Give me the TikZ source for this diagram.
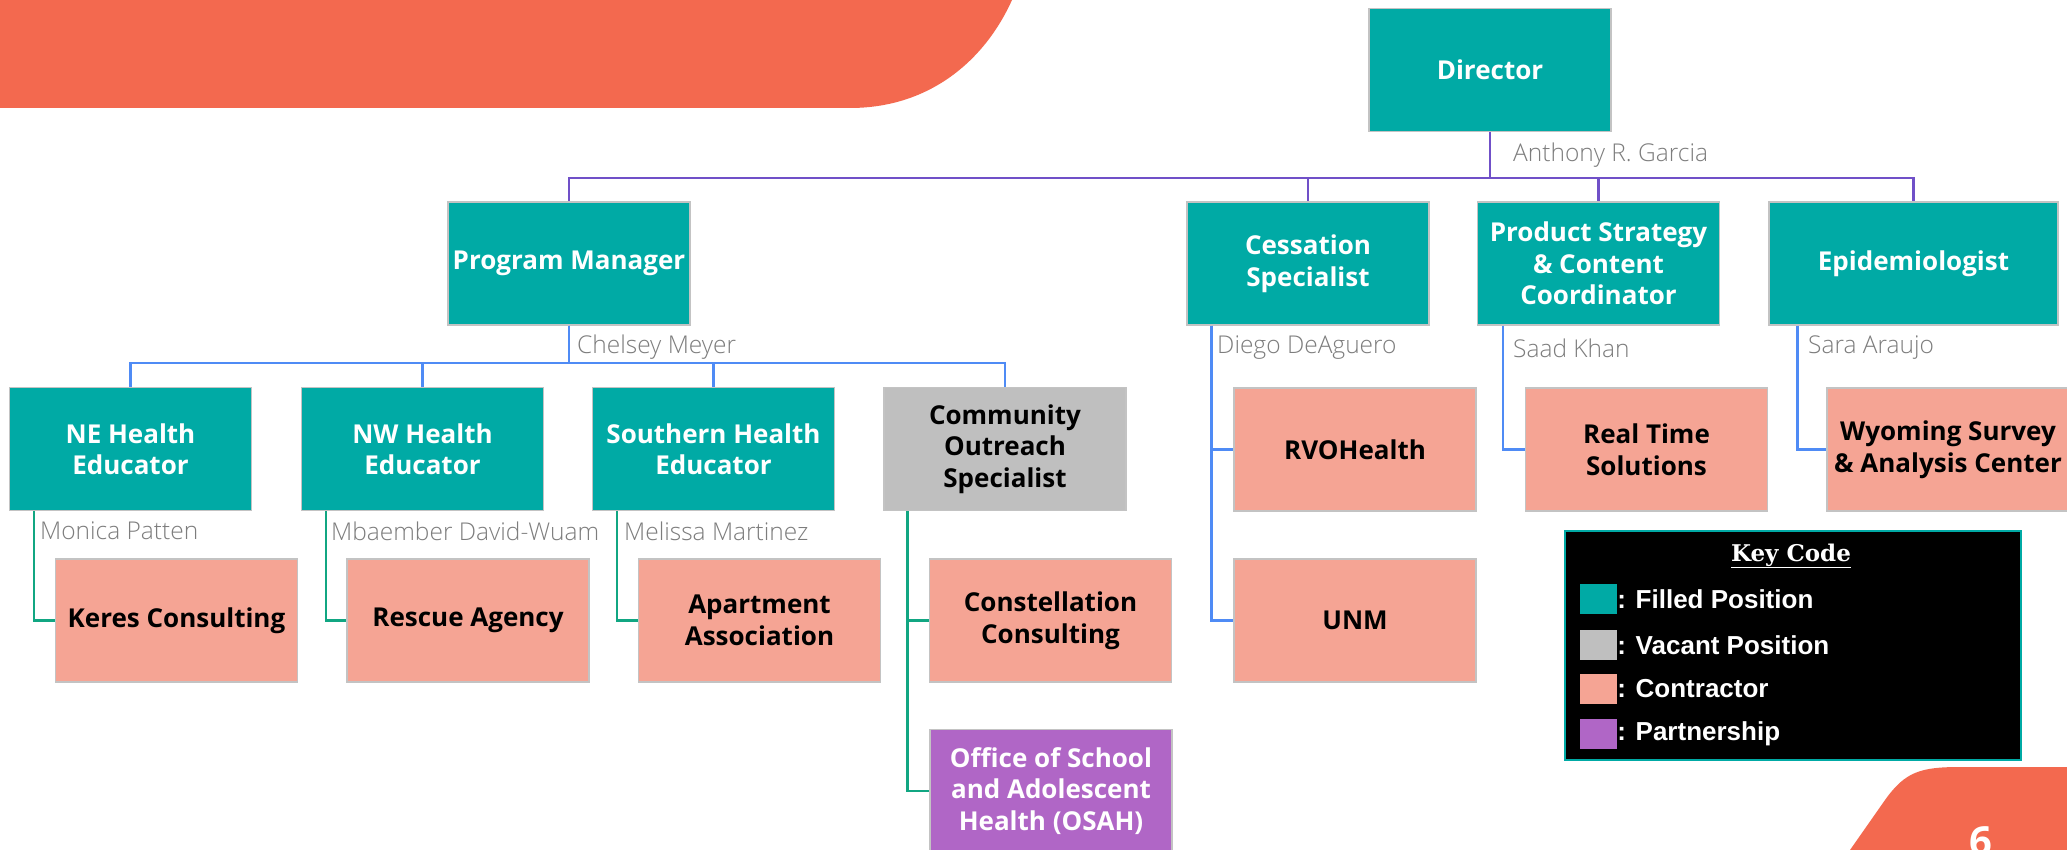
\documentclass[tikz,border=0pt]{standalone}
\usepackage{fontspec}
\setmainfont{Open Sans}
\IfFontExistsTF{Open Sans SemiBold}{\newfontfamily\bxfam{Open Sans SemiBold}\newcommand\bxsel{\bxfam}}{\newfontfamily\bxfam{Open Sans}\newcommand\bxsel{\bxfam\bfseries}}
\IfFontExistsTF{Open Sans Light}{\newfontfamily\nmfam{Open Sans Light}}{\newfontfamily\nmfam{Open Sans}}
\newfontfamily\lgfam{Liberation Sans}
\newfontfamily\kyfam{DejaVu Serif}
\newcommand\bxfont{\bxsel\fontsize{26pt}{31.5pt}\selectfont}
\newcommand\nmfont{\nmfam\fontsize{24.5pt}{28pt}\selectfont}
\newcommand\lgfont{\lgfam\bfseries\fontsize{26pt}{30pt}\selectfont}
\newcommand\kyfont{\kyfam\bfseries\fontsize{23pt}{28pt}\selectfont}
\definecolor{filledc}{RGB}{0,170,165}
\definecolor{vacantc}{RGB}{191,191,191}
\definecolor{contrc}{RGB}{245,164,148}
\definecolor{partc}{RGB}{176,102,198}
\definecolor{orangec}{RGB}{243,105,79}
\definecolor{purplel}{RGB}{112,80,200}
\definecolor{bluel}{RGB}{79,139,245}
\definecolor{greenl}{RGB}{17,166,130}
\definecolor{namec}{RGB}{125,125,125}
\definecolor{edgec}{RGB}{195,195,195}
\tikzset{
  box/.style={draw=edgec, line width=1.5pt, minimum width=242pt, minimum height=123pt, align=center, font=\bxfont, inner sep=0pt},
  filled/.style={box, fill=filledc, text=white},
  vacant/.style={box, fill=vacantc, text=black},
  contr/.style={box, fill=contrc, text=black},
  partner/.style={box, fill=partc, text=white},
  person/.style={anchor=west, font=\nmfont, text=namec, inner sep=0pt},
  purln/.style={draw=purplel, line width=2.5pt},
  bluln/.style={draw=bluel, line width=2.5pt},
  grnln/.style={draw=greenl, line width=2.5pt},
  swatch/.style={minimum width=37pt, minimum height=30pt, inner sep=0pt},
  legtext/.style={anchor=west, font=\lgfont, text=white, inner sep=0pt}
}
\begin{document}
\begin{tikzpicture}[x=1pt,y=-1pt]
\clip (0,0) rectangle (2067,850);
\fill[white] (0,0) rectangle (2067,850);
% decorative orange shapes
\fill[orangec] (0,0) -- (1012,0) .. controls (985,60) and (930,108) .. (850,108) -- (0,108) -- cycle;
\fill[orangec] (1850,850) -- (1885,800) .. controls (1905,772) and (1920,767) .. (1960,767) -- (2067,767) -- (2067,850) -- cycle;
\node[text=white, font=\bxsel\fontsize{40pt}{44pt}\selectfont, anchor=base, inner sep=0pt] (pg) at (1981,855) {6};

% level 0 and 1
\node[filled] (dir) at (1490,70) {Director};
\node[filled] (pm) at (569,263.5) {Program Manager};
\node[filled] (cess) at (1308,263.5) {Cessation\\Specialist};
\node[filled] (prod) at (1598.5,263.5) {Product Strategy\\\& Content\\Coordinator};
\node[filled, minimum width=289pt] (epi) at (1913.5,263.5) {Epidemiologist};

% level 2
\node[filled] (ne) at (130.5,449) {NE Health\\Educator};
\node[filled] (nw) at (422.5,449) {NW Health\\Educator};
\node[filled] (so) at (713.5,449) {Southern Health\\Educator};
\node[vacant] (comm) at (1005,449) {Community\\Outreach\\Specialist};
\node[contr] (rvo) at (1355,449.5) {RVOHealth};
\node[contr] (rt) at (1646.5,449.5) {Real Time\\Solutions};
\node[contr] (wy) at (1948,449.5) {Wyoming Survey\\\& Analysis Center};

% level 3
\node[contr] (keres) at (176.5,620.5) {Keres Consulting};
\node[contr] (resc) at (468,620.5) {Rescue Agency};
\node[contr] (apt) at (759.5,620.5) {Apartment\\Association};
\node[contr] (const) at (1050.5,620.5) {Constellation\\Consulting};
\node[contr] (unm) at (1355,620.5) {UNM};
\node[partner] (osah) at (1051,791) {Office of School\\and Adolescent\\Health (OSAH)};

% connectors
\coordinate (bar1) at (0,178);
\coordinate (bar2) at (0,363);
\foreach \c in {pm,cess,prod,epi}{
  \draw[purln] (dir.south) -- (dir.south |- bar1) -| (\c.north);
}
\foreach \c in {ne,nw,so,comm}{
  \draw[bluln] (pm.south) -- (pm.south |- bar2) -| (\c.north);
}
\draw[grnln] ([xshift=25pt]ne.south west) |- (keres.west);
\draw[grnln] ([xshift=25pt]nw.south west) |- (resc.west);
\draw[grnln] ([xshift=25pt]so.south west) |- (apt.west);
\draw[grnln] ([xshift=24pt]comm.south west) |- (const.west);
\draw[grnln] ([xshift=24pt]comm.south west) |- (osah.west);
\draw[bluln] ([xshift=25pt]cess.south west) |- (rvo.west);
\draw[bluln] ([xshift=25pt]cess.south west) |- (unm.west);
\draw[bluln] ([xshift=26pt]prod.south west) |- (rt.west);
\draw[bluln] ([xshift=29pt]epi.south west) |- (wy.west);

% names
\node[person] (n1) at (1513,155) {Anthony R. Garcia};
\node[person] (n2) at (577,347) {Chelsey Meyer};
\node[person] (n3) at (40,531) {Monica Patten};
\node[person] (n4) at (331,531) {Mbaember David-Wuam};
\node[person] (n5) at (624,531) {Melissa Martinez};
\node[person] (n6) at (1217,348) {Diego DeAguero};
\node[person] (n7) at (1513,348) {Saad Khan};
\node[person] (n8) at (1808,348) {Sara Araujo};

% legend
\node[draw=filledc, line width=1.5pt, fill=black, minimum width=456pt, minimum height=229pt, anchor=north west, inner sep=0pt] (key) at (1564,530) {};
\node[font=\kyfont, text=white, inner sep=0pt] (kt) at (1791,556) {\underline{Key Code}};
\node[swatch, fill=filledc] (s1) at (1598.5,599) {};
\node[swatch, fill=vacantc] (s2) at (1598.5,645) {};
\node[swatch, fill=contrc] (s3) at (1598.5,689) {};
\node[swatch, fill=partc] (s4) at (1598.5,734) {};
\node[legtext] (l1) at (s1.east) {: Filled Position};
\node[legtext] (l2) at (s2.east) {: Vacant Position};
\node[legtext] (l3) at (s3.east) {: Contractor};
\node[legtext] (l4) at (s4.east) {: Partnership};
\end{tikzpicture}
\end{document}
